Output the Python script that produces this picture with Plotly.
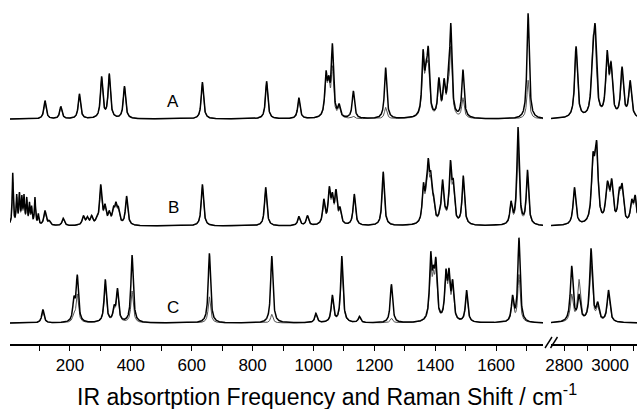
import numpy as np
import plotly.graph_objects as go

# ---------------- data: peak positions (cm-1) and apex heights ----------------
A_left_pos = [118, 170, 231, 304, 329, 379, 635, 846, 952, 1041, 1050, 1062, 1084, 1131, 1237,
              1360, 1370, 1377, 1412, 1429, 1442, 1451, 1491, 1705]
A_left_ir = [0.19, 0.13, 0.26, 0.44, 0.47, 0.34, 0.38, 0.39, 0.22, 0.50, 0.45, 0.78, 0.16, 0.29, 0.53,
             0.72, 0.62, 0.75, 0.43, 0.42, 0.45, 0.99, 0.51, 1.09]
A_left_ra = [0.17, 0.12, 0.24, 0.42, 0.45, 0.33, 0.36, 0.37, 0.20, 0.45, 0.45, 0.55, 0.14, 0.03, 0.12,
             0.62, 0.62, 0.60, 0.40, 0.40, 0.42, 0.75, 0.22, 0.40]
A_right_pos = [2852, 2925, 2935, 2987, 3004, 3052, 3087]
A_right_ir = [0.75, 0.80, 0.98, 0.71, 0.59, 0.54, 0.40]
A_right_ra = [0.72, 0.85, 0.90, 0.66, 0.60, 0.50, 0.38]

B_left_pos = [12, 25, 34, 42, 49, 58, 67, 74, 85, 96, 118, 132, 178, 244, 257, 271, 288, 301, 315, 329,
              343, 351, 359, 386, 635, 843, 952, 980, 1034, 1052, 1062, 1074, 1087, 1134, 1229, 1361,
              1370, 1377, 1385, 1394, 1415, 1424, 1433, 1443, 1450, 1459, 1492, 1649, 1672, 1703]
B_left_ir = [0.55, 0.33, 0.35, 0.32, 0.33, 0.30, 0.25, 0.21, 0.30, 0.13, 0.16, 0.06, 0.08, 0.11, 0.10,
             0.11, 0.10, 0.43, 0.23, 0.16, 0.21, 0.25, 0.20, 0.31, 0.43, 0.40, 0.10, 0.11, 0.28, 0.41,
             0.35, 0.38, 0.20, 0.33, 0.56, 0.45, 0.44, 0.70, 0.57, 0.33, 0.18, 0.48, 0.20, 0.28, 0.68,
             0.49, 0.52, 0.26, 1.02, 0.58]
B_left_ra = [0.45, 0.30, 0.32, 0.28, 0.30, 0.27, 0.22, 0.19, 0.27, 0.11, 0.14, 0.05, 0.07, 0.10, 0.09,
             0.10, 0.09, 0.38, 0.21, 0.15, 0.19, 0.23, 0.18, 0.28, 0.40, 0.37, 0.09, 0.10, 0.25, 0.38,
             0.33, 0.35, 0.18, 0.30, 0.50, 0.42, 0.40, 0.62, 0.52, 0.30, 0.16, 0.44, 0.18, 0.25, 0.60,
             0.45, 0.48, 0.24, 0.80, 0.52]
B_right_pos = [2845, 2925, 2935, 2942, 2986, 2993, 3007, 3040, 3052, 3094, 3109]
B_right_ir = [0.40, 0.76, 0.78, 0.87, 0.45, 0.44, 0.49, 0.40, 0.44, 0.28, 0.32]
B_right_ra = [0.38, 0.72, 0.80, 0.80, 0.43, 0.42, 0.46, 0.38, 0.42, 0.26, 0.30]

C_left_pos = [111, 213, 224, 316, 345, 356, 404, 658, 863, 1008, 1062, 1093, 1151, 1256, 1385, 1394,
              1402, 1435, 1445, 1457, 1503, 1654, 1675]
C_left_ir = [0.14, 0.28, 0.50, 0.45, 0.19, 0.36, 0.70, 0.72, 0.69, 0.10, 0.29, 0.69, 0.07, 0.40, 0.74,
             0.60, 0.68, 0.56, 0.57, 0.45, 0.34, 0.29, 0.88]
C_left_ra = [0.12, 0.12, 0.30, 0.40, 0.17, 0.33, 0.33, 0.27, 0.09, 0.09, 0.26, 0.60, 0.06, 0.05, 0.62,
             0.55, 0.58, 0.55, 0.50, 0.40, 0.30, 0.25, 0.50]
C_right_pos = [2833, 2865, 2917, 2946, 2993]
C_right_ir = [0.59, 0.30, 0.77, 0.22, 0.34]
C_right_ra = [0.30, 0.45, 0.62, 0.18, 0.30]

panel_labels = ["A", "B", "C"]
left_ticks = [100, 200, 300, 400, 500, 600, 700, 800, 900, 1000, 1100, 1200, 1300, 1400, 1500, 1600, 1700]
left_ticktext = ["", "200", "", "400", "", "600", "", "800", "", "1000", "", "1200", "", "1400", "",
                 "1600", ""]
right_ticks = [2800, 2900, 3000, 3100]
right_ticktext = ["2800", "", "3000", ""]
x_title = "IR absortption Frequency and Raman Shift / cm<sup>-1</sup>"

# ---------------- construction ----------------
offsets = {"A": 2.103, "B": 1.0, "C": 0.0}


def half_width(pos, right):
    pos = np.asarray(pos, float)
    if right:
        return np.full_like(pos, 7.0)
    return np.where(pos < 100, 2.2, 4.5)


def lorentz_matrix(x, pos, hw):
    x = np.asarray(x, float)[:, None]
    p = np.asarray(pos, float)[None, :]
    w = np.asarray(hw, float)[None, :]
    return w ** 2 / ((x - p) ** 2 + w ** 2)


def spectrum(x, pos, apex, right):
    """Sum of Lorentzian bands whose summed curve reaches the read apex heights."""
    hw = half_width(pos, right)
    apex = np.asarray(apex, float)
    M = lorentz_matrix(pos, pos, hw)
    a = apex.copy()
    for _ in range(300):
        a = a * apex / np.maximum(M @ a, 1e-9)
    return lorentz_matrix(x, pos, hw) @ a


xl = np.arange(3, 1755, 0.5)
xr = np.arange(2743, 3118, 0.5)

data = {
    "A": (A_left_pos, A_left_ir, A_left_ra, A_right_pos, A_right_ir, A_right_ra),
    "B": (B_left_pos, B_left_ir, B_left_ra, B_right_pos, B_right_ir, B_right_ra),
    "C": (C_left_pos, C_left_ir, C_left_ra, C_right_pos, C_right_ir, C_right_ra),
}

fig = go.Figure()
for lab in panel_labels:
    lp, li, lr, rp, ri, rr = data[lab]
    off = offsets[lab]
    fig.add_trace(go.Scatter(x=xl, y=off + spectrum(xl, lp, lr, False), mode="lines",
                             line=dict(color="#555555", width=1), xaxis="x", yaxis="y",
                             hoverinfo="skip"))
    fig.add_trace(go.Scatter(x=xl, y=off + spectrum(xl, lp, li, False), mode="lines",
                             line=dict(color="black", width=1.5), xaxis="x", yaxis="y",
                             hoverinfo="skip"))
    fig.add_trace(go.Scatter(x=xr, y=off + spectrum(xr, rp, rr, True), mode="lines",
                             line=dict(color="#555555", width=1), xaxis="x2", yaxis="y",
                             hoverinfo="skip"))
    fig.add_trace(go.Scatter(x=xr, y=off + spectrum(xr, rp, ri, True), mode="lines",
                             line=dict(color="black", width=1.5), xaxis="x2", yaxis="y",
                             hoverinfo="skip"))

label_y = {"A": 2.28, "B": 1.19, "C": 0.165}
for lab in panel_labels:
    fig.add_annotation(x=539, y=label_y[lab], xref="x", yref="y", text=lab, showarrow=False,
                       font=dict(family="Liberation Sans, Arial", size=17, color="black"))

W, H = 637, 409
axis_font = dict(family="Liberation Sans, Arial", size=17, color="black")
common = dict(showline=True, linecolor="black", linewidth=1.6, ticks="outside", ticklen=5,
              tickwidth=1.4, tickcolor="black", showgrid=False, zeroline=False,
              tickfont=axis_font, mirror=False, automargin=False)
fig.update_layout(
    width=W, height=H,
    margin=dict(l=0, r=0, t=0, b=65),
    paper_bgcolor="white", plot_bgcolor="white",
    showlegend=False,
    xaxis=dict(domain=[10 / W, 543 / W], range=[3, 1754], tickmode="array",
               tickvals=left_ticks, ticktext=left_ticktext, anchor="y", **common),
    xaxis2=dict(domain=[551 / W, 1.0], range=[2743, 3117], tickmode="array",
                tickvals=right_ticks, ticktext=right_ticktext, anchor="y", **common),
    yaxis=dict(range=[-0.216, 3.33], visible=False, fixedrange=True),
)

# axis title centred under the whole broken axis
fig.add_annotation(x=0.513, y=-51 / 344, xref="paper", yref="paper", text=x_title,
                   showarrow=False, yanchor="middle",
                   font=dict(family="Liberation Sans, Arial", size=23, color="black"))

# axis-break marks "//"
for x0 in (545, 550.5):
    fig.add_shape(type="line", xref="paper", yref="paper",
                  x0=x0 / W, x1=(x0 + 7) / W, y0=-4 / 344, y1=7 / 344,
                  line=dict(color="black", width=1.4))

fig.write_html("out.html", config={"displayModeBar": False},
               post_script="document.body.style.margin='0px';")
